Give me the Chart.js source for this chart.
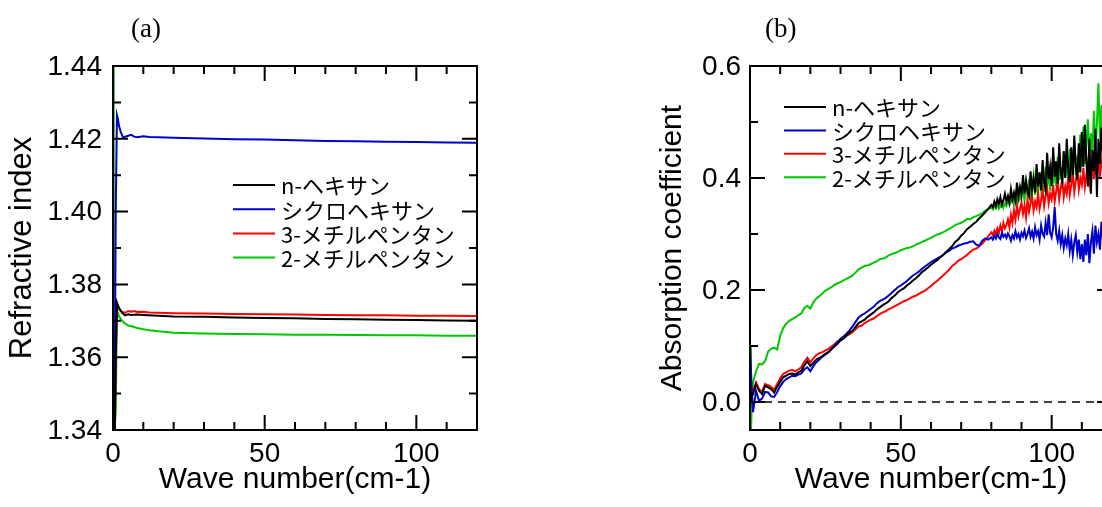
<!DOCTYPE html>
<html><head><meta charset="utf-8">
<script src="https://cdn.jsdelivr.net/npm/chart.js@4.4.0/dist/chart.umd.min.js"></script>
<style>
html,body{margin:0;padding:0;width:1102px;height:507px;overflow:hidden;background:#fff;}
#wrapA{position:absolute;left:0;top:0;width:560px;height:507px;}
#wrapB{position:absolute;left:651px;top:0;width:480px;height:507px;}
.ptitle{position:absolute;z-index:5;font-family:'Liberation Serif','DejaVu Serif',serif;font-size:27px;line-height:27px;color:#000;}
</style></head>
<body>
<div id="wrapA"><canvas id="cA" width="560" height="507"></canvas></div>
<div id="wrapB"><canvas id="cB" width="480" height="507"></canvas></div>
<div class="ptitle" style="left:131px;top:15px">(a)</div>
<div class="ptitle" style="left:765px;top:15px">(b)</div>
<script>
// ---------- labels ----------
const seriesNames = ['n-ヘキサン', 'シクロヘキサン', '3-メチルペンタン', '2-メチルペンタン'];
const seriesColors = ['#000000', '#0000cc', '#ff0000', '#00c800'];

// ---------- ticks ----------
const xLabelTicks = [0, 50, 100];
const xAllTicks = [0, 10, 20, 30, 40, 50, 60, 70, 80, 90, 100, 110, 120];
const riLabelTicks = [1.34, 1.36, 1.38, 1.40, 1.42, 1.44];
const riAllTicks = [1.34, 1.35, 1.36, 1.37, 1.38, 1.39, 1.40, 1.41, 1.42, 1.43, 1.44];
const acLabelTicks = [0.0, 0.2, 0.4, 0.6];
const acAllTicks = [0.0, 0.1, 0.2, 0.3, 0.4, 0.5, 0.6];

// ---------- (a) refractive index ----------
const riWave_nHexane = [0.6, 0.9, 1.3, 2, 3, 4, 5, 6, 8, 10, 15, 20, 30, 40, 50, 60, 70, 80, 90, 100, 110, 120];
const ri_nHexane = [1.340, 1.360, 1.3750, 1.3735, 1.3722, 1.3715, 1.3718, 1.3716, 1.3717, 1.3716, 1.3714, 1.3712, 1.3711, 1.3709, 1.3708, 1.3707, 1.3705, 1.3704, 1.3703, 1.3702, 1.3701, 1.3700];

const riWave_cyclohexane = [0.5, 0.9, 1.3, 1.6, 2, 2.5, 3.3, 4.5, 6, 7, 8, 10, 12, 15, 20, 30, 40, 50, 60, 70, 80, 90, 100, 110, 120];
const ri_cyclohexane = [1.340, 1.400, 1.4265, 1.4255, 1.4235, 1.4220, 1.4204, 1.4207, 1.4211, 1.4206, 1.4204, 1.4207, 1.4205, 1.4204, 1.4203, 1.4201, 1.4199, 1.4198, 1.4196, 1.4194, 1.4193, 1.4192, 1.4191, 1.4190, 1.4189];

const riWave_3mp = [0.6, 0.9, 1.3, 2, 3, 4, 5, 6, 7, 8, 10, 12, 15, 20, 30, 40, 50, 60, 70, 80, 90, 100, 110, 120];
const ri_3mp = [1.340, 1.360, 1.3743, 1.3732, 1.3724, 1.3722, 1.3727, 1.3725, 1.3727, 1.3724, 1.3725, 1.3723, 1.3722, 1.3721, 1.3720, 1.3719, 1.3718, 1.3717, 1.3716, 1.3715, 1.3715, 1.3714, 1.3714, 1.3713];

const riWave_2mp = [0, 0.25, 0.5, 0.9, 1.3, 2, 3, 4, 5, 6, 7, 8, 10, 12, 15, 20, 30, 40, 50, 60, 70, 80, 90, 100, 110, 120];
const ri_2mp = [1.445, 1.400, 1.340, 1.345, 1.3730, 1.3712, 1.3700, 1.3692, 1.3687, 1.3685, 1.3683, 1.3680, 1.3677, 1.3674, 1.3671, 1.3667, 1.3665, 1.3664, 1.3663, 1.3662, 1.3662, 1.3661, 1.3660, 1.3660, 1.3659, 1.3659];

// ---------- (b) absorption coefficient ----------
const acWave = [0, 0.3, 0.6, 1, 2, 3, 4, 5, 6, 7, 8, 9, 10,
  11, 12, 13, 14, 15, 16, 17, 18, 19, 20, 21, 22, 23, 24, 25, 26, 27, 28, 29, 30,
  31, 32, 33, 34, 35, 36, 37, 38, 39, 40, 41, 42, 43, 44, 45, 46, 47, 48, 49, 50,
  51, 52, 53, 54, 55, 56, 57, 58, 59, 60, 61, 62, 63, 64, 65, 66, 67, 68, 69, 70,
  71, 72, 73, 74, 75, 76, 77, 78, 79, 80,
  80.5, 81, 81.5, 82, 82.5, 83, 83.5, 84, 84.5, 85,
  85.5, 86, 86.5, 87, 87.5, 88, 88.5, 89, 89.5, 90,
  90.5, 91, 91.5, 92, 92.5, 93, 93.5, 94, 94.5, 95,
  95.5, 96, 96.5, 97, 97.5, 98, 98.5, 99, 99.5, 100,
  100.5, 101, 101.5, 102, 102.5, 103, 103.5, 104, 104.5, 105,
  105.5, 106, 106.5, 107, 107.5, 108, 108.5, 109, 109.5, 110,
  110.5, 111, 111.5, 112, 112.5, 113, 113.5, 114, 114.5, 115,
  115.5, 116, 116.5, 117, 117.5, 118, 118.5, 119, 119.5, 120];

const ac_nHexane = [0.020, 0.000, 0.010, 0.014, 0.032, 0.020, 0.014, 0.029, 0.026, 0.023, 0.017, 0.027, 0.036,
  0.044, 0.047, 0.050, 0.051, 0.049, 0.053, 0.056, 0.065, 0.073, 0.064,
  0.070, 0.076, 0.079, 0.082, 0.086, 0.089, 0.094, 0.099, 0.104, 0.110,
  0.113, 0.119, 0.124, 0.127, 0.134, 0.141, 0.144, 0.147, 0.152, 0.156,
  0.160, 0.165, 0.169, 0.173, 0.176, 0.180, 0.186, 0.190, 0.196, 0.200,
  0.203, 0.208, 0.212, 0.217, 0.221, 0.226, 0.232, 0.236, 0.240, 0.245,
  0.249, 0.253, 0.258, 0.262, 0.268, 0.273, 0.278, 0.286, 0.290, 0.297,
  0.302, 0.309, 0.313, 0.318, 0.322, 0.328, 0.333, 0.339, 0.345, 0.352,
  0.348, 0.358, 0.350, 0.362, 0.354, 0.366, 0.352, 0.360, 0.372, 0.358,
  0.368, 0.356, 0.380, 0.362, 0.374, 0.360, 0.392, 0.366, 0.384, 0.370,
  0.405, 0.372, 0.395, 0.376, 0.368, 0.412, 0.380, 0.398, 0.374, 0.425,
  0.385, 0.410, 0.378, 0.432, 0.392, 0.380, 0.445, 0.398, 0.420, 0.386,
  0.455, 0.402, 0.430, 0.390, 0.462, 0.410, 0.395, 0.448, 0.400, 0.470,
  0.412, 0.392, 0.455, 0.405, 0.476, 0.418, 0.398, 0.462, 0.410, 0.482,
  0.420, 0.495, 0.430, 0.385, 0.470, 0.372, 0.450, 0.412, 0.488, 0.366,
  0.470, 0.425, 0.490, 0.440, 0.372, 0.478, 0.420, 0.468, 0.400, 0.455];

const ac_cyclohexane = [0.100, 0.100, 0.020, -0.018, 0.020, 0.002, 0.006, 0.018, 0.017, 0.010, 0.009, 0.018, 0.028,
  0.036, 0.041, 0.044, 0.047, 0.046, 0.049, 0.051, 0.058, 0.062, 0.055,
  0.064, 0.071, 0.076, 0.081, 0.085, 0.089, 0.095, 0.101, 0.107, 0.113,
  0.117, 0.122, 0.128, 0.135, 0.143, 0.151, 0.155, 0.158, 0.162, 0.166,
  0.170, 0.176, 0.180, 0.183, 0.186, 0.190, 0.195, 0.200, 0.205, 0.208,
  0.212, 0.216, 0.221, 0.226, 0.229, 0.233, 0.238, 0.242, 0.246, 0.250,
  0.253, 0.256, 0.259, 0.263, 0.267, 0.270, 0.274, 0.276, 0.279, 0.281,
  0.283, 0.284, 0.286, 0.287, 0.281, 0.279, 0.288, 0.292, 0.290, 0.294,
  0.290, 0.297, 0.292, 0.300, 0.294, 0.291, 0.302, 0.295, 0.299, 0.293,
  0.301, 0.296, 0.288, 0.298, 0.292, 0.305, 0.294, 0.300, 0.290, 0.302,
  0.296, 0.306, 0.293, 0.300, 0.310, 0.295, 0.304, 0.292, 0.312, 0.298,
  0.305, 0.290, 0.315, 0.300, 0.295, 0.320, 0.298, 0.335, 0.302, 0.294,
  0.312, 0.348, 0.300, 0.288, 0.306, 0.282, 0.298, 0.275, 0.292, 0.280,
  0.300, 0.270, 0.290, 0.262, 0.285, 0.298, 0.268, 0.290, 0.255, 0.282,
  0.250, 0.290, 0.262, 0.300, 0.248, 0.285, 0.305, 0.265, 0.315, 0.285,
  0.300, 0.272, 0.322, 0.290, 0.336, 0.300, 0.328, 0.305, 0.332, 0.315];

const ac_3mp = [0.020, 0.000, 0.015, 0.020, 0.035, 0.023, 0.018, 0.032, 0.030, 0.027, 0.022, 0.032, 0.042,
  0.050, 0.053, 0.056, 0.057, 0.055, 0.058, 0.062, 0.072, 0.079, 0.071,
  0.078, 0.084, 0.087, 0.089, 0.092, 0.095, 0.099, 0.103, 0.108, 0.112,
  0.114, 0.118, 0.121, 0.125, 0.130, 0.135, 0.136, 0.141, 0.144, 0.147,
  0.149, 0.153, 0.157, 0.160, 0.162, 0.166, 0.168, 0.171, 0.174, 0.177,
  0.180, 0.182, 0.185, 0.188, 0.190, 0.193, 0.196, 0.199, 0.203, 0.207,
  0.212, 0.216, 0.221, 0.226, 0.231, 0.236, 0.243, 0.247, 0.252, 0.255,
  0.259, 0.263, 0.268, 0.272, 0.274, 0.278, 0.283, 0.289, 0.296, 0.303,
  0.298, 0.306, 0.300, 0.310, 0.302, 0.315, 0.305, 0.320, 0.310, 0.316,
  0.326, 0.312, 0.334, 0.320, 0.342, 0.326, 0.350, 0.332, 0.345, 0.356,
  0.336, 0.350, 0.330, 0.362, 0.340, 0.355, 0.368, 0.342, 0.358, 0.348,
  0.372, 0.345, 0.360, 0.378, 0.350, 0.368, 0.382, 0.355, 0.372, 0.362,
  0.388, 0.358, 0.376, 0.392, 0.362, 0.382, 0.398, 0.366, 0.385, 0.372,
  0.402, 0.370, 0.388, 0.408, 0.375, 0.395, 0.412, 0.380, 0.400, 0.388,
  0.418, 0.384, 0.405, 0.426, 0.392, 0.412, 0.436, 0.398, 0.420, 0.405,
  0.440, 0.402, 0.428, 0.448, 0.410, 0.432, 0.418, 0.446, 0.412, 0.438];

const ac_2mp = [0.100, -0.060, 0.000, 0.035, 0.055, 0.068, 0.067, 0.073, 0.090, 0.095, 0.097, 0.094, 0.118,
  0.132, 0.140, 0.145, 0.148, 0.151, 0.155, 0.158, 0.168, 0.172, 0.167,
  0.178, 0.185, 0.189, 0.194, 0.199, 0.202, 0.205, 0.209, 0.212, 0.214,
  0.217, 0.220, 0.223, 0.226, 0.231, 0.237, 0.240, 0.243, 0.244, 0.246,
  0.249, 0.251, 0.255, 0.256, 0.258, 0.262, 0.264, 0.266, 0.268, 0.271,
  0.273, 0.275, 0.276, 0.278, 0.281, 0.283, 0.286, 0.288, 0.291, 0.293,
  0.296, 0.299, 0.301, 0.303, 0.306, 0.309, 0.312, 0.316, 0.318, 0.320,
  0.323, 0.327, 0.326, 0.330, 0.332, 0.334, 0.337, 0.342, 0.345, 0.347,
  0.344, 0.350, 0.346, 0.353, 0.345, 0.349, 0.356, 0.347, 0.354, 0.350,
  0.360, 0.352, 0.358, 0.364, 0.354, 0.370, 0.358, 0.376, 0.362, 0.368,
  0.382, 0.360, 0.390, 0.368, 0.398, 0.364, 0.385, 0.405, 0.370, 0.392,
  0.372, 0.410, 0.380, 0.398, 0.375, 0.420, 0.388, 0.405, 0.378, 0.428,
  0.390, 0.412, 0.385, 0.438, 0.396, 0.420, 0.388, 0.445, 0.400, 0.430,
  0.395, 0.452, 0.402, 0.428, 0.465, 0.405, 0.440, 0.410, 0.478, 0.420,
  0.492, 0.425, 0.460, 0.505, 0.432, 0.480, 0.445, 0.520, 0.450, 0.498,
  0.569, 0.470, 0.530, 0.455, 0.545, 0.480, 0.510, 0.462, 0.530, 0.490];

const zeroLineWave = [0, 120];
const zeroLineValue = [0, 0];

// ---------- helpers ----------
const pts = (xs, ys) => xs.map((x, i) => ({ x: x, y: ys[i] }));
const sansFont = "'Liberation Sans', Arial, sans-serif";

const frameTicks = {
  id: 'frameTicks',
  afterDraw(chart, args, o) {
    const { ctx, chartArea: a } = chart;
    const xs = chart.scales.x, ys = chart.scales.y;
    ctx.save();
    ctx.strokeStyle = '#000';
    ctx.lineWidth = 2;
    ctx.beginPath();
    o.xAll.forEach(v => {
      const p = xs.getPixelForValue(v);
      const L = o.xMajor.includes(v) ? o.majorLen : o.minorLen;
      ctx.moveTo(p, a.bottom); ctx.lineTo(p, a.bottom - L);
      ctx.moveTo(p, a.top); ctx.lineTo(p, a.top + L);
    });
    o.yAll.forEach(v => {
      const p = ys.getPixelForValue(v);
      const L = o.yMajor.some(m => Math.abs(m - v) < 1e-9) ? o.majorLen : o.minorLen;
      ctx.moveTo(a.left, p); ctx.lineTo(a.left + L, p);
      ctx.moveTo(a.right, p); ctx.lineTo(a.right - L, p);
    });
    ctx.stroke();
    ctx.strokeRect(a.left, a.top, a.right - a.left, a.bottom - a.top);
    // legend inside plot
    const lg = o.legend;
    ctx.font = lg.font;
    ctx.textBaseline = 'middle';
    ctx.textAlign = 'left';
    let row = 0;
    chart.data.datasets.forEach(ds => {
      if (!ds.label) return;
      const y = a.top + lg.dy + row * lg.rowH;
      const x0 = a.left + lg.dx;
      ctx.strokeStyle = ds.borderColor;
      ctx.lineWidth = 2;
      ctx.beginPath();
      ctx.moveTo(x0, y); ctx.lineTo(x0 + lg.lineLen, y);
      ctx.stroke();
      ctx.fillStyle = '#000';
      ctx.fillText(ds.label, x0 + lg.lineLen + lg.gap, y + 1);
      row++;
    });
    ctx.restore();
  }
};

function makeScales(yMin, yMax, yLabelTicks, yFmt, yTitle, yTitleSize, yWidth, yPad) {
  return {
    x: {
      type: 'linear', min: 0, max: 120,
      grid: { display: false, drawTicks: false }, border: { display: false },
      afterBuildTicks: s => { s.ticks = xLabelTicks.map(v => ({ value: v })); },
      afterFit: s => { s.height = 77; },
      ticks: { padding: 7, color: '#000', font: { family: sansFont, size: 28 }, maxRotation: 0, autoSkip: false,
               callback: v => String(v) },
      title: { display: true, text: 'Wave number(cm-1)', color: '#000', font: { family: sansFont, size: 30 },
               padding: { top: 0, bottom: 9 } }
    },
    y: {
      type: 'linear', min: yMin, max: yMax,
      grid: { display: false, drawTicks: false }, border: { display: false },
      afterBuildTicks: s => { s.ticks = yLabelTicks.map(v => ({ value: v })); },
      afterFit: s => { s.width = yWidth; },
      ticks: { padding: yPad, color: '#000', font: { family: sansFont, size: 28 }, labelOffset: 1, autoSkip: false,
               callback: v => yFmt(v) },
      title: { display: true, text: yTitle, color: '#000', font: { family: sansFont, size: yTitleSize },
               padding: { top: 4, bottom: 0 } }
    }
  };
}

function lineDs(label, color, data) {
  return { label: label, data: data, borderColor: color, backgroundColor: color, borderWidth: 2,
           pointRadius: 0, tension: 0, fill: false };
}

// ---------- chart (a) ----------
new Chart(document.getElementById('cA'), {
  type: 'line',
  data: {
    datasets: [
      lineDs(seriesNames[0], seriesColors[0], pts(riWave_nHexane, ri_nHexane)),
      lineDs(seriesNames[1], seriesColors[1], pts(riWave_cyclohexane, ri_cyclohexane)),
      lineDs(seriesNames[2], seriesColors[2], pts(riWave_3mp, ri_3mp)),
      lineDs(seriesNames[3], seriesColors[3], pts(riWave_2mp, ri_2mp))
    ]
  },
  options: {
    responsive: false, animation: false, events: [],
    layout: { padding: { left: 0, top: 66, right: 83, bottom: 0 } },
    plugins: {
      legend: { display: false }, tooltip: { enabled: false },
      frameTicks: { xAll: xAllTicks, xMajor: xLabelTicks, yAll: riAllTicks, yMajor: riLabelTicks,
                    majorLen: 15, minorLen: 8,
                    legend: { dx: 120, dy: 119, rowH: 24.2, lineLen: 42, gap: 6, font: "22px 'Noto Sans CJK JP'" } }
    },
    scales: makeScales(1.34, 1.44, riLabelTicks, v => v.toFixed(2), 'Refractive index', 31, 113, 11)
  },
  plugins: [frameTicks]
});

// ---------- chart (b) ----------
new Chart(document.getElementById('cB'), {
  type: 'line',
  data: {
    datasets: [
      { data: pts(zeroLineWave, zeroLineValue), borderColor: '#000', borderWidth: 1.5, borderDash: [8, 6],
        pointRadius: 0, fill: false },
      lineDs(seriesNames[0], seriesColors[0], pts(acWave, ac_nHexane)),
      lineDs(seriesNames[1], seriesColors[1], pts(acWave, ac_cyclohexane)),
      lineDs(seriesNames[2], seriesColors[2], pts(acWave, ac_3mp)),
      lineDs(seriesNames[3], seriesColors[3], pts(acWave, ac_2mp))
    ]
  },
  options: {
    responsive: false, animation: false, events: [],
    layout: { padding: { left: 0, top: 66, right: 19, bottom: 0 } },
    plugins: {
      legend: { display: false }, tooltip: { enabled: false },
      frameTicks: { xAll: xAllTicks, xMajor: xLabelTicks, yAll: acAllTicks, yMajor: acLabelTicks,
                    majorLen: 15, minorLen: 8,
                    legend: { dx: 34, dy: 41, rowH: 23.4, lineLen: 42, gap: 6, font: "22px 'Noto Sans CJK JP'" } }
    },
    scales: makeScales(-0.05, 0.6, acLabelTicks, v => v.toFixed(1), 'Absorption coefficient', 30, 99, 9)
  },
  plugins: [frameTicks]
});
</script>
</body></html>
